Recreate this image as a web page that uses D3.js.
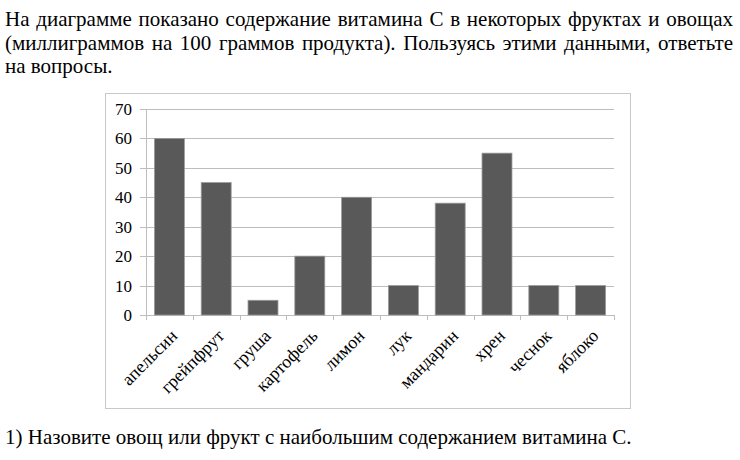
<!DOCTYPE html>
<html><head><meta charset="utf-8">
<script src="https://cdn.jsdelivr.net/npm/d3@7"></script>
<style>
body{margin:0;background:#fff;width:740px;height:460px;overflow:hidden;font-family:"Liberation Serif","Times New Roman",serif;}
.line{position:absolute;left:5px;width:728px;font-size:21px;line-height:24px;color:#000;white-space:nowrap;}
.just{text-align:justify;text-align-last:justify;}
svg{position:absolute;left:0;top:0;}
svg text{font-family:"Liberation Serif","Times New Roman",serif;fill:#000;}
</style></head><body>
<div class="line just" style="top:7px">На диаграмме показано содержание витамина С в некоторых фруктах и овощах</div>
<div class="line just" style="top:31px">(миллиграммов на 100 граммов продукта). Пользуясь этими данными, ответьте</div>
<div class="line" style="top:54px">на вопросы.</div>
<div class="line" style="top:425px">1) Назовите овощ или фрукт с наибольшим содержанием витамина С.</div>
<svg id="chart" width="740" height="460"></svg>
<script>
const categories = ["апельсин","грейпфрут","груша","картофель","лимон","лук","мандарин","хрен","чеснок","яблоко"];
const values = [60,45,5,20,40,10,38,55,10,10];
const yTicks = [0,10,20,30,40,50,60,70];

const svg = d3.select("#chart");
const pl=146, pr=614, pt=109, pb=315;
svg.append("rect").attr("x",105.5).attr("y",93.5).attr("width",525).attr("height",315)
  .attr("fill","none").attr("stroke","#c8c8c8").attr("stroke-width",1);

const x = d3.scaleBand().domain(categories).range([pl,pr]).paddingInner(0.36).paddingOuter(0.18);
const y = d3.scaleLinear().domain([0,70]).range([pb,pt]);

// gridlines
svg.append("g").selectAll("line").data(yTicks).join("line")
  .attr("x1",pl-6).attr("x2",pr).attr("y1",d=>Math.round(y(d))+0.5).attr("y2",d=>Math.round(y(d))+0.5)
  .attr("stroke","#bdbdbd").attr("stroke-width",1);
// y axis line
svg.append("line").attr("x1",pl+0.5).attr("x2",pl+0.5).attr("y1",pt).attr("y2",pb+0.5)
  .attr("stroke","#bdbdbd");
// y labels
svg.append("g").selectAll("text").data(yTicks).join("text")
  .attr("x",pl-14).attr("y",d=>y(d)).attr("dy","0.35em").attr("text-anchor","end")
  .style("font-size","17px").text(d=>d);

// bars
svg.append("g").selectAll("rect").data(values).join("rect")
  .attr("x",(d,i)=>x(categories[i])).attr("width",x.bandwidth())
  .attr("y",d=>y(d)).attr("height",d=>y(0)-y(d))
  .attr("fill","#595959").attr("stroke","#9a9a9a").attr("stroke-width",0.8);

// x ticks at boundaries
const bounds = d3.range(categories.length+1).map(i=>pl + i*(pr-pl)/categories.length);
svg.append("g").selectAll("line").data(bounds).join("line")
  .attr("x1",d=>Math.round(d)+0.5).attr("x2",d=>Math.round(d)+0.5).attr("y1",pb).attr("y2",pb+5)
  .attr("stroke","#bdbdbd");

// x labels
svg.append("g").selectAll("text").data(categories).join("text")
  .attr("transform",d=>`translate(${x(d)+x.bandwidth()/2+9},${pb+22}) rotate(-45)`)
  .attr("text-anchor","end").style("font-size","18px")
  .text(d=>d);
</script>
</body></html>
